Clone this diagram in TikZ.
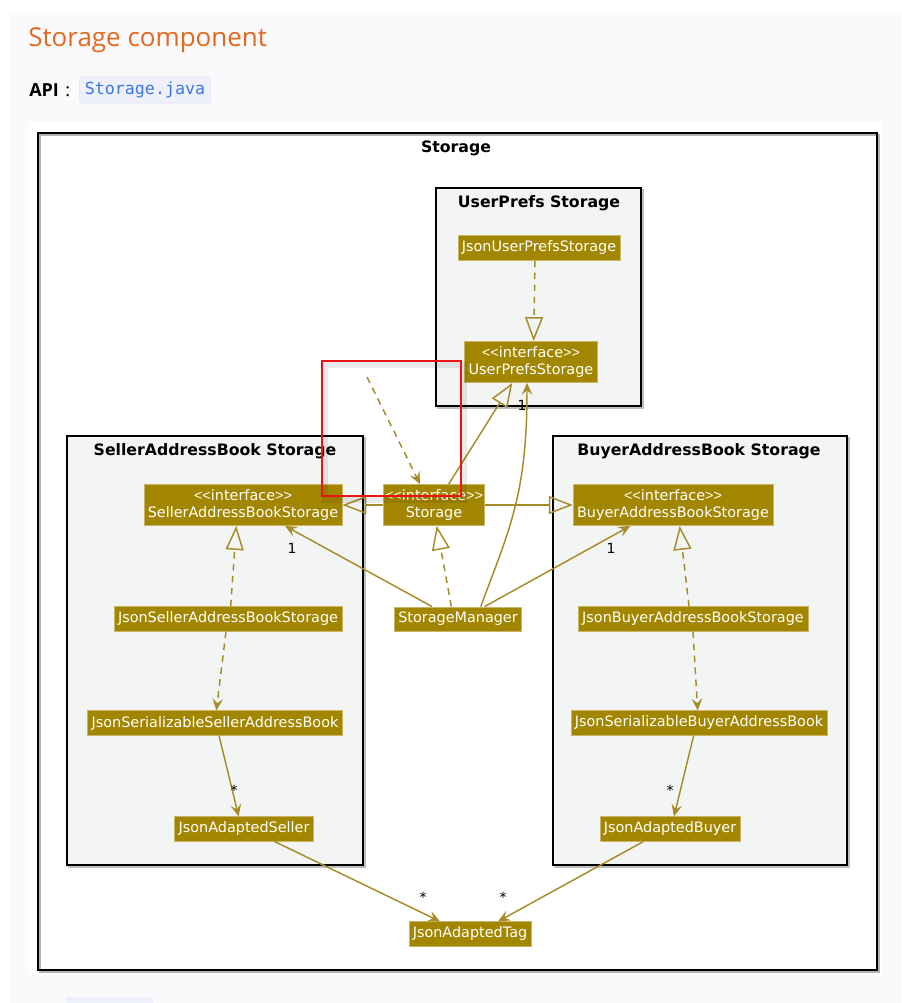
\documentclass[tikz,border=0pt]{standalone}
\usepackage{fontspec}
\setmainfont{DejaVu Sans}
\newfontfamily\headfont{Open Sans}
\newfontfamily\codefont{DejaVu Sans Mono}
\newfontfamily\bracketfont{Liberation Sans}
\usetikzlibrary{arrows.meta}

\definecolor{umlgold}{RGB}{163,134,0}
\definecolor{umlline}{RGB}{166,140,40}
\definecolor{pkgfill}{RGB}{243,244,244}
\definecolor{pagegray}{RGB}{250,250,252}
\definecolor{headorange}{RGB}{226,104,28}
\definecolor{chipfill}{RGB}{238,240,251}
\definecolor{chipline}{RGB}{222,226,245}
\definecolor{chiptext}{RGB}{60,120,220}
\definecolor{markred}{RGB}{235,20,20}

\newcommand{\stereo}{{\bracketfont <{}<}interface{\bracketfont >{}>}}

\tikzset{
  cls/.style={fill=umlgold, draw=umlgold!60!white, line width=0.4pt, text=white,
    font=\fontsize{10.8}{12.5}\selectfont, inner xsep=3pt, inner ysep=4pt, align=center},
  pkg/.style={fill=pkgfill, draw=black, line width=1.3pt},
  pkgtitle/.style={font=\fontsize{11.8}{13}\selectfont\bfseries},
  mult/.style={font=\fontsize{10.5}{12}\selectfont},
  inherit/.style={umlline, line width=1.1pt, -{Triangle[open, length=18pt, width=13.5pt]}},
  realize/.style={inherit, dash pattern=on 5pt off 4pt},
  assoc/.style={umlline, line width=1.1pt, -{Stealth[length=9pt, width=8pt, inset=3.5pt]}},
  depend/.style={assoc, dash pattern=on 5pt off 4pt}
}

\begin{document}
\begin{tikzpicture}[x=0.75pt, y=-0.75pt]
\useasboundingbox (0,0) rectangle (901,1003);

\fill[pagegray] (9,13) rectangle (901,1003);
\fill[white] (28,122) rectangle (882,975);
\fill[chipfill] (66,997) rectangle (153,1010);

\node[anchor=base west, text=headorange, font=\headfont\fontsize{19.5}{22}\selectfont, inner sep=0pt] (head) at (28,46) {Storage component};
\node[anchor=base west, font=\headfont\fontsize{13.5}{16}\selectfont\bfseries, inner sep=0pt] (api) at (29,96) {API};
\node[anchor=base west, font=\headfont\fontsize{13.5}{16}\selectfont, inner sep=0pt] (colon) at (65,96) {:};
\node[fill=chipfill, draw=chipline, rounded corners=2pt, text=chiptext, font=\codefont\fontsize{12.5}{14}\selectfont, inner xsep=4pt, minimum height=19.5pt] (chip) at (145,90) {Storage.java};

\draw[gray!60, line width=1.3pt] (40,135) rectangle (879,972);
\draw[black, line width=1.3pt] (38,133) rectangle (877,970);
\node[pkgtitle] (storagetitle) at (456,148) {Storage};

\draw[gray!50, line width=1.3pt] (438,190) rectangle (643,408);
\draw[pkg] (436,188) rectangle (641,406);
\node[pkgtitle] (upstitle) at (539,203) {UserPrefs Storage};

\draw[gray!50, line width=1.3pt] (69,438) rectangle (365,867);
\draw[pkg] (67,436) rectangle (363,865);
\node[pkgtitle] (selltitle) at (215,451) {SellerAddressBook Storage};

\draw[gray!50, line width=1.3pt] (555,438) rectangle (849,867);
\draw[pkg] (553,436) rectangle (847,865);
\node[pkgtitle] (buytitle) at (699,451) {BuyerAddressBook Storage};

\node[cls] (jups) at (539,248) {JsonUserPrefsStorage};
\node[cls] (ups) at (531,362) {\stereo\\UserPrefsStorage};
\node[cls, inner xsep=1pt] (stor) at (434,505) {\stereo\\Storage};
\node[cls] (sell) at (243,505) {\stereo\\SellerAddressBookStorage};
\node[cls] (buy) at (673,505) {\stereo\\BuyerAddressBookStorage};
\node[cls] (mgr) at (458,619) {StorageManager};
\node[cls] (jsell) at (228,619) {JsonSellerAddressBookStorage};
\node[cls] (sersell) at (215,723) {JsonSerializableSellerAddressBook};
\node[cls] (adsell) at (244,829) {JsonAdaptedSeller};
\node[cls] (jbuy) at (693,619) {JsonBuyerAddressBookStorage};
\node[cls] (serbuy) at (699,723) {JsonSerializableBuyerAddressBook};
\node[cls] (adbuy) at (670,829) {JsonAdaptedBuyer};
\node[cls] (tag) at (470,934) {JsonAdaptedTag};

\draw[realize] ([xshift=-3pt]jups.south) -- ([xshift=2pt]ups.north);
\draw[inherit] ([xshift=11pt]stor.north) -- ([xshift=-14pt]ups.south);
\draw[assoc] ([xshift=17pt]mgr.north) .. controls +(30,-80) and +(0,110) .. ([xshift=-3pt]ups.south);
\draw[inherit] (stor.west) -- (sell.east);
\draw[inherit] (stor.east) -- (buy.west);
\draw[realize] ([xshift=-5pt]mgr.north) -- ([xshift=2pt]stor.south);
\draw[assoc] ([xshift=-19.5pt]mgr.north) -- ([xshift=31.5pt]sell.south);
\draw[assoc] ([xshift=20pt]mgr.north) -- ([xshift=-32pt]buy.south);

\draw[realize] ([xshift=2pt]jsell.north) -- ([xshift=-5pt]sell.south);
\draw[depend] ([xshift=-1.5pt]jsell.south) -- ([xshift=1pt]sersell.north);
\draw[assoc] ([xshift=3pt]sersell.south) -- ([xshift=-4pt]adsell.north);

\draw[realize] ([xshift=-3pt]jbuy.north) -- ([xshift=5pt]buy.south);
\draw[depend] (jbuy.south) -- ([xshift=-1pt]serbuy.north);
\draw[assoc] ([xshift=-4pt]serbuy.south) -- ([xshift=3pt]adbuy.north);

\draw[assoc] ([xshift=23pt]adsell.south) -- ([xshift=-22.5pt]tag.north);
\draw[assoc] ([xshift=-20pt]adbuy.south) -- ([xshift=21pt]tag.north);

\node[mult] (m1) at (522,405) {1};
\node[mult] (m2) at (292,548) {1};
\node[mult] (m3) at (611,548) {1};
\node[mult] (m4) at (234,790) {*};
\node[mult] (m5) at (670,790) {*};
\node[mult] (m6) at (423,897) {*};
\node[mult] (m7) at (503,897) {*};

\draw[black, opacity=0.08, line width=4pt] (325,365) rectangle (464,500);
\coordinate (markstart) at (367,377);
\draw[depend] (markstart) -- ([xshift=-10.5pt]stor.north);
\draw[markred, line width=1.5pt] (322,361) rectangle (461,496);

\end{tikzpicture}
\end{document}
